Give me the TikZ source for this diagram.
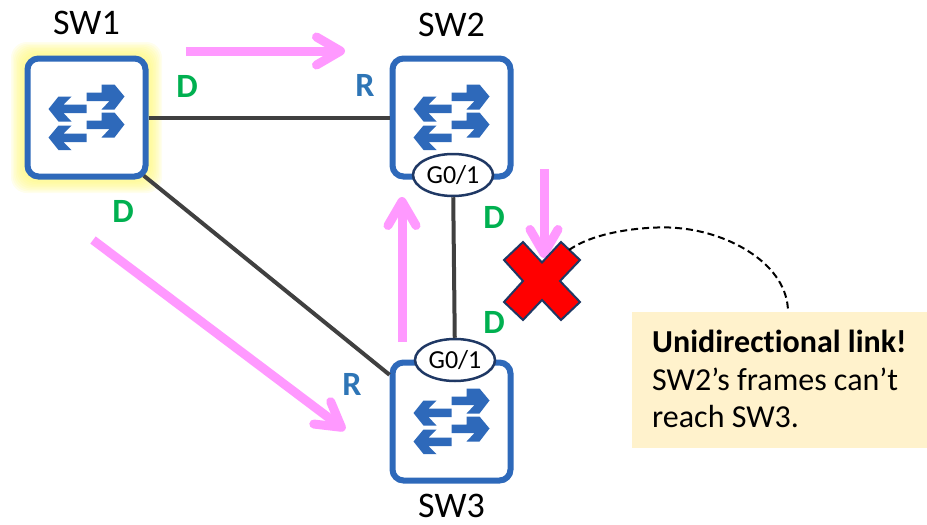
\documentclass[tikz,border=0pt]{standalone}
\usepackage{fontspec}
\setmainfont{Carlito}[Ligatures=NoCommon]
\usetikzlibrary{positioning,arrows.meta,shapes.geometric}

\definecolor{swblue}{HTML}{2E69BA}
\definecolor{linkgray}{HTML}{404040}
\definecolor{pinkarrow}{HTML}{FF99FF}
\definecolor{navyline}{HTML}{1F3864}
\definecolor{portgreen}{HTML}{00B050}
\definecolor{portblue}{HTML}{2E75B6}
\definecolor{notefill}{HTML}{FFF2CC}

\tikzset{
	switch/.style={rectangle,draw=swblue,fill=white,line width=6pt,rounded corners=11pt,minimum size=118pt,inner sep=0pt},
	swname/.style={font=\fontsize{36}{36}\selectfont,inner sep=0pt},
	port/.style={ellipse,draw=navyline,fill=white,line width=2.5pt,minimum width=80pt,minimum height=42pt,inner sep=0pt,font=\fontsize{26}{26}\selectfont},
	link/.style={draw=linkgray,line width=4pt},
	flow/.style={draw=pinkarrow,line width=9pt,-{Straight Barb[length=24pt,width=28pt,round]}},
	roleD/.style={text=portgreen,font=\bfseries\fontsize{34}{34}\selectfont,inner sep=0pt},
	roleR/.style={text=portblue,font=\bfseries\fontsize{34}{34}\selectfont,inner sep=0pt},
	pics/swarrows/.style={code={
		\fill[swblue] (0,-25) -- (15,-25) -- (15,-33) -- (28,-33) -- (38,-21) -- (28,-8) -- (15,-8) -- (23,-16.5) -- (0,-16.5) -- cycle;
		\fill[swblue] (0,3) -- (15,3) -- (15,-5) -- (28,-5) -- (38,7) -- (28,20) -- (15,20) -- (23,11.5) -- (0,11.5) -- cycle;
		\fill[swblue] (0,-13) -- (-23,-13) -- (-15,-21) -- (-28,-21) -- (-38,-8.5) -- (-28,4) -- (-15,4) -- (-23,-4.5) -- (0,-4.5) -- cycle;
		\fill[swblue] (0,16) -- (-23,16) -- (-15,8) -- (-28,8) -- (-38,20) -- (-28,32.5) -- (-15,32.5) -- (-23,24.5) -- (0,24.5) -- cycle;
	}}
}

\begin{document}
\begin{tikzpicture}[x=1pt,y=-1pt]
	\useasboundingbox (0,0) rectangle (927,525);

	% glow round the root switch
	\foreach \g in {14,12.5,11,9.5,8,6.5,5,3.5}
		\fill[yellow!55!white,opacity=.13,rounded corners=16pt] ({25-\g},{56-\g}) rectangle ({148+\g},{179+\g});

	\node[switch] (sw1) at (86.5,117.5) {};
	\node[switch] (sw2) at (451.5,117.5) {};
	\node[switch] (sw3) at (451.5,421.5) {};
	\pic at (sw1) {swarrows};
	\pic at (sw2) {swarrows};
	\pic at (sw3) {swarrows};

	\node[swname,above=21pt of sw1] (name1) {SW1};
	\node[swname,above=19pt of sw2] (name2) {SW2};
	\node[swname,below=10pt of sw3] (name3) {SW3};

	\node[port] (g2) at (453,175) {G0/1};
	\node[port] (g3) at (455,360) {G0/1};

	\draw[link] (sw1) -- (sw2);
	\draw[link,shorten <=-6pt] (sw1.-45) -- (sw3.143);
	\draw[link] (g2) -- (g3);

	\node[roleD] (d1) at (187,86) {D};
	\node[roleR] (r2) at (365,85) {R};
	\node[roleD] (d2) at (123,211) {D};
	\node[roleD] (d3) at (494,217) {D};
	\node[roleD] (d4) at (494,322) {D};
	\node[roleR] (r3) at (352,384) {R};

	% where the BPDUs go
	\coordinate (a1) at (186,51);
	\coordinate (b1) at (345,51);
	\coordinate (a2) at (93,240);
	\coordinate (b2) at (345,430);
	\coordinate (a3) at (402,342);
	\coordinate (b3) at (402,197);
	\coordinate (a4) at (544,169);
	\coordinate (b4) at (544,258);
	\draw[flow] (a1) -- (b1);
	\draw[flow] (a2) -- (b2);
	\draw[flow] (a3) -- (b3);
	\draw[flow] (a4) -- (b4);

	\draw[fill=red,draw=navyline,line width=2pt] (542,262.5) -- (561,242) -- (580,260) -- (560,281) -- (580,302) -- (561,320) -- (542,300) -- (523,320) -- (504,302) -- (523,281) -- (504,260) -- (523,242) -- cycle;
	\coordinate (xtip) at (569,250);

	\node[rectangle,fill=notefill,minimum width=295pt,minimum height=136pt,anchor=north west,inner sep=0pt] (note) at (632,312) {};
	\node[anchor=north west,inner sep=0pt,align=left,font=\fontsize{32}{37.5}\selectfont] (notetext) at (652,330) {\textbf{Unidirectional link!}\\SW2’s frames can’t\\reach SW3.};
	\coordinate (notetop) at (788,312);
	\draw[dashed,line width=2pt,dash pattern=on 7pt off 4pt] (xtip) .. controls (600,228) and (660,226) .. (677,228) .. controls (730,232) and (788,265) .. (notetop);
\end{tikzpicture}
\end{document}
